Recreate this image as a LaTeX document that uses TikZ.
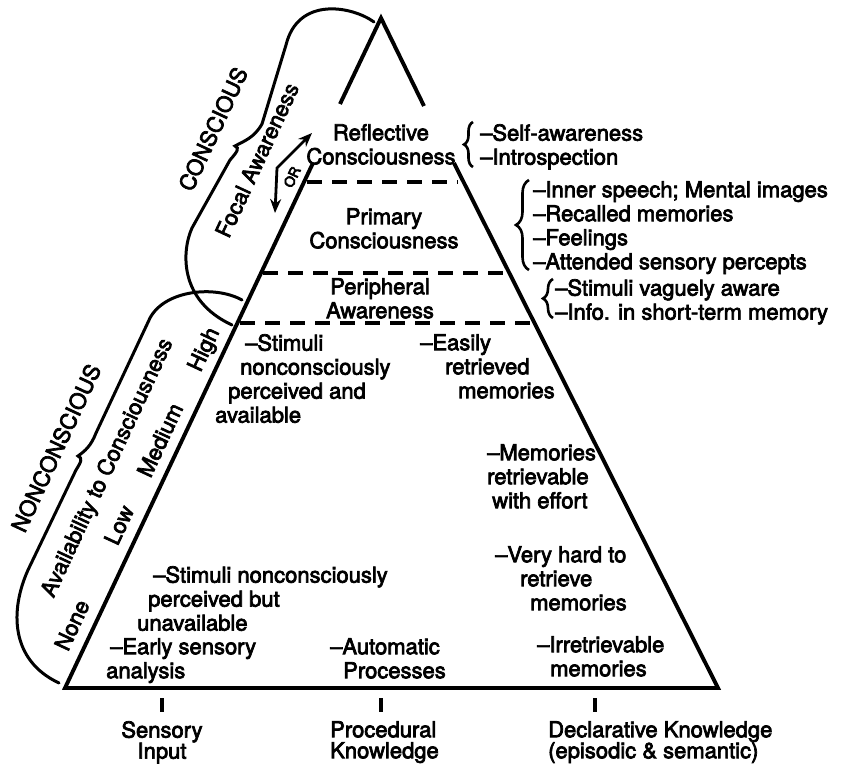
\documentclass[tikz,border=0pt]{standalone}
\usepackage{fontspec}
\setmainfont{TeX Gyre Heros}
\usetikzlibrary{arrows.meta,decorations.pathreplacing}
\newcommand\heavytext{\special{pdf:literal direct 2 Tr 0.7 w}}
\begin{document}
\begin{tikzpicture}[x=1pt,y=-1pt,
  line join=miter,
  edge/.style={line width=3.9pt},
  dashedlevel/.style={line width=3.8pt, dash pattern=on 15pt off 10pt},
  bigbrace/.style={line width=3pt, line cap=round},
  rbrace/.style={line width=2.6pt, decorate, decoration={brace, amplitude=#1}},
  txt/.style={font=\fontsize{22}{24}\selectfont\heavytext, inner sep=0pt, align=left},
  ctxt/.style={font=\fontsize{22}{24}\selectfont\heavytext, inner sep=0pt, align=center},
  rot/.style={font=\fontsize{22}{24}\selectfont\heavytext, inner sep=0pt, rotate=65},
  tickmark/.style={line width=3.4pt}
]
\useasboundingbox (0,0) rectangle (844,765);
% triangle
\coordinate (apex) at (381,18);
\coordinate (tl) at (340,104);
\coordinate (tr) at (424,106);
\coordinate (ul) at (313,163);
\coordinate (ur) at (454,163);
\coordinate (bl) at (65,688);
\coordinate (br) at (718,688);
\draw[edge] (tl) -- (apex) -- (tr);
\draw[edge] (ul) -- (bl) -- (br) -- (ur);
% dashed levels
\coordinate (d1l) at (307,182); \coordinate (d1r) at (458,182);
\coordinate (d2l) at (263,273); \coordinate (d2r) at (505,273);
\coordinate (d3l) at (240,323); \coordinate (d3r) at (530,323);
\draw[dashedlevel] (d1l) -- (d1r);
\draw[dashedlevel] (d2l) -- (d2r);
\draw[dashedlevel] (d3l) -- (d3r);
% level names
\node[ctxt, anchor=north] (refl) at (381,124) {Reflective\\Consciousness};
\node[ctxt, anchor=north] (prim) at (384,208) {Primary\\Consciousness};
\node[ctxt, anchor=north] (peri) at (380,278) {Peripheral\\Awareness};
% right lists
\node[txt, anchor=north west] (r1) at (480,124) {–Self-awareness\\–Introspection};
\node[txt, anchor=north west] (r2) at (533,181) {–Inner speech; Mental images\\–Recalled memories\\–Feelings\\–Attended sensory percepts};
\node[txt, anchor=north west] (r3) at (555,279) {–Stimuli vaguely aware\\–Info. in short-term memory};
\draw[rbrace=9pt] (473,167) -- (473,122);
\draw[rbrace=13pt] (529,270) -- (529,180);
\draw[rbrace=10pt] (553,318) -- (553,279);
% inner texts
\node[txt, anchor=north west] (stim1) at (215,334) {\hspace*{30pt}–Stimuli\\\hspace*{25pt}nonconsciously\\\hspace*{13pt}perceived and\\available};
\node[txt, anchor=north west] (easy) at (420,334) {–Easily\\\hspace*{25pt}retrieved\\\hspace*{38pt}memories};
\node[txt, anchor=north west] (mem) at (487,444) {–Memories\\retrievable\\\hspace*{5pt}with effort};
\node[txt, anchor=north west] (hard) at (495,546) {–Very hard to\\\hspace*{25pt}retrieve\\\hspace*{35pt}memories};
\node[txt, anchor=north west] (irr) at (537,636) {–Irretrievable\\\hspace*{13pt}memories};
\node[txt, anchor=north west] (stim2) at (137,566) {\hspace*{16pt}–Stimuli nonconsciously\\\hspace*{11pt}perceived but\\unavailable};
\node[txt, anchor=north west] (early) at (106,638) {\hspace*{4pt}–Early sensory\\analysis};
\node[txt, anchor=north west] (auto) at (330,638) {–Automatic\\\hspace*{13pt}Processes};
% bottom ticks and labels
\coordinate (t1a) at (162,698); \coordinate (t1b) at (162,712);
\coordinate (t2a) at (381,698); \coordinate (t2b) at (381,712);
\coordinate (t3a) at (595,698); \coordinate (t3b) at (595,712);
\draw[tickmark] (t1a) -- (t1b);
\draw[tickmark] (t2a) -- (t2b);
\draw[tickmark] (t3a) -- (t3b);
\node[ctxt, anchor=north, font=\fontsize{22}{21}\selectfont\heavytext] (sens) at (162,721) {Sensory\\Input};
\node[txt, anchor=north west, font=\fontsize{22}{21}\selectfont\heavytext] (proc) at (330,721) {Procedural\\Knowledge};
\node[txt, anchor=north west, font=\fontsize{22}{21}\selectfont\heavytext] (decl) at (548,721) {Declarative Knowledge\\(episodic \& semantic)};
% conscious brace
\draw[bigbrace] (374,22) .. controls (352,6) and (298,-4) .. (286,45)
  -- (262,124) .. controls (254,138) and (244,141) .. (235,146)
  .. controls (240,148) and (237,152) .. (230,160)
  -- (192,228) .. controls (182,250) and (178,300) .. (232,325);
% nonconscious brace
\draw[bigbrace] (242,300) .. controls (215,285) and (165,290) .. (150,318)
  -- (96,433) .. controls (91,446) and (85,451) .. (78,456)
  .. controls (83,458) and (81,462) .. (76,470)
  -- (28,570) .. controls (10,610) and (10,660) .. (59,683);
% rotated labels
\node[rot] (cons) at (213,129) {CONSCIOUS};
\node[rot] (focal) at (257,160) {Focal Awareness};
\node[rot, font=\fontsize{14}{16}\selectfont\heavytext] (or) at (292,177) {OR};
\node[rot] (noncons) at (56,448) {NONCONSCIOUS};
\node[rot] (avail) at (108,468) {Availability to Consciousness};
\node[rot] (high) at (205,350) {High};
\node[rot] (med) at (160,440) {Medium};
\node[rot] (low) at (119,525) {Low};
\node[rot] (none) at (72,625) {None};
% OR arrow
\coordinate (ardn) at (275,213);
\coordinate (arm) at (277,168);
\coordinate (arup) at (312,133);
\draw[line width=2.8pt, {Stealth[length=14pt,width=11pt]}-{Stealth[length=14pt,width=11pt]}] (ardn) -- (arm) -- (arup);
\end{tikzpicture}
\end{document}
